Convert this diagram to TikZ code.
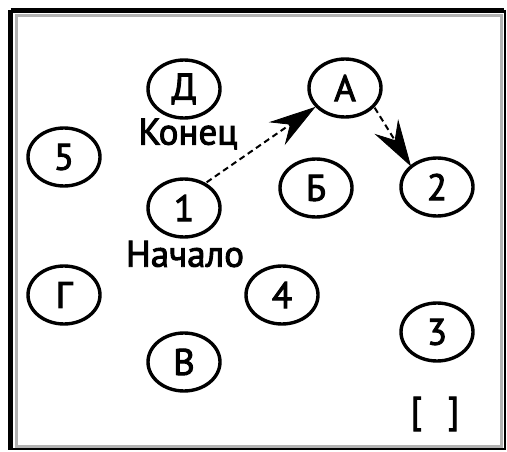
\documentclass[tikz,border=0pt]{standalone}
\usepackage{fontspec}
\setmainfont{PT Sans}
\newfontfamily\lblfont[FakeBold=2.5]{PT Sans}
\usetikzlibrary{shapes.geometric,calc}
\begin{document}
\begin{tikzpicture}[x=1pt,y=-1pt,
  vert/.style={ellipse,draw,line width=3.4pt,minimum width=72pt,minimum height=58pt,inner sep=0pt,font=\lblfont\fontsize{37}{37}\selectfont},
  lbl/.style={font=\lblfont\fontsize{37}{37}\selectfont,inner sep=0pt},
  conn/.style={line width=2pt,dash pattern=on 6pt off 4pt},
  headfill/.style={fill=black,draw=black,line width=0.8pt,line join=miter}]
\useasboundingbox (0,0) rectangle (507,452);
\fill[white] (0,0) rectangle (507,452);
\draw[gray!60,line width=3pt] (16,16) rectangle (501,446);
\draw[black,line width=5pt] (10.5,10.5) -- (504,10.5);
\draw[black,line width=5pt] (10.5,10.5) -- (10.5,450);
\draw[black,line width=2pt] (10.5,449) -- (505,449) -- (505,10.5);
\node[vert] (D) at (184,89) {Д};
\node[vert] (A) at (345,88) {А};
\node[vert] (n5) at (64,157) {5};
\node[vert] (B) at (316,188) {Б};
\node[vert] (n2) at (437,187) {2};
\node[vert] (n1) at (184,208) {1};
\node[vert] (G) at (64,295) {Г};
\node[vert] (n4) at (282,295) {4};
\node[vert] (n3) at (437,332) {3};
\node[vert] (V) at (184,362) {В};
\node[lbl] (konec) at (188,134) {Конец};
\node[lbl] (nachalo) at (185,254) {Начало};
\node[lbl] (br) at (435,414) {[\hspace{26pt}]};
% arrow 1 -> A
\coordinate (s1) at ([shift={(-4,-4)}]n1.north east);
\coordinate (t1) at ([shift={(-4,-2)}]A.south west);
\draw[conn] (s1) -- ($(t1)!26pt!(s1)$);
\coordinate (p1) at ($(t1)!44pt!(s1)$);
\fill[headfill] (t1) -- ($(p1)!13pt!90:(t1)$) -- ($(t1)!29pt!(s1)$) -- ($(p1)!13pt!-90:(t1)$) -- cycle;
% arrow A -> 2
\coordinate (s2) at ([shift={(3,-2)}]A.south east);
\coordinate (t2) at (n2.north west);
\draw[conn] (s2) -- ($(t2)!26pt!(s2)$);
\coordinate (p2) at ($(t2)!44pt!(s2)$);
\fill[headfill] (t2) -- ($(p2)!13pt!90:(t2)$) -- ($(t2)!29pt!(s2)$) -- ($(p2)!13pt!-90:(t2)$) -- cycle;
\end{tikzpicture}
\end{document}
